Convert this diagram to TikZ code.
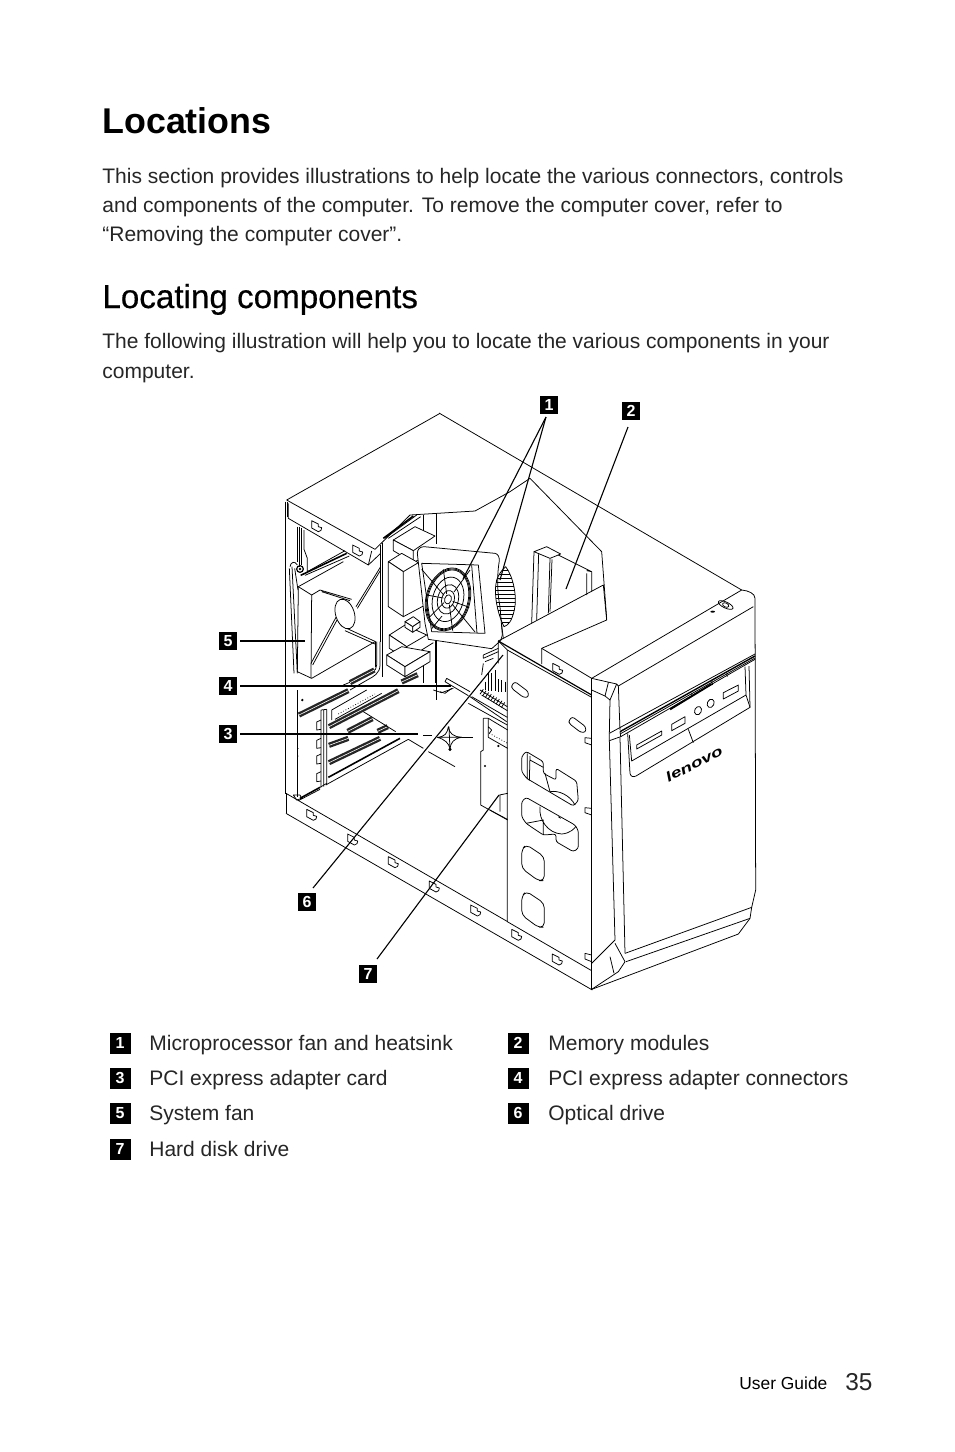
\documentclass[tikz,border=0pt]{standalone}
\usepackage{fontspec}
\setmainfont{Liberation Sans}
\newfontfamily\medfont[FakeBold=.5]{Liberation Sans}
\usetikzlibrary{calc}
\newcommand\tabmark[2]{\draw[art] (#1,#2) -- ++(0,22) -- ++(20,11) -- ++(8,-4) -- ++(2,-8) -- ++(-10,-3) -- ++(0,-8) -- cycle;}
\newcommand\slotband[4]{\draw[line width=2.6pt,black!85] (#1,#2)--(#3,#4); \draw[line width=.3pt,white] (#1,#2)--(#3,#4);}
\tikzset{
 art/.style={line width=.38pt,black,line join=round},
 heavy/.style={line width=.8pt,black},
 leader/.style={line width=.55pt,black},
 za/.style={shift={(105pt,-195pt)},x=.16667pt,y=-.16667pt},
 zb/.style={shift={(105pt,-340pt)},x=.16667pt,y=-.16667pt},
 zc/.style={shift={(245pt,-280pt)},x=.16667pt,y=-.16667pt},
 zd/.style={shift={(190pt,-260pt)},x=.16667pt,y=-.16667pt},
 ze/.style={shift={(142.5pt,-335pt)},x=.16667pt,y=-.16667pt},
 zg/.style={shift={(220pt,-320pt)},x=.16667pt,y=-.16667pt},
 body/.style={anchor=base west,inner sep=0pt,font=\fontsize{10.5pt}{12pt}\selectfont,text=black!85},
 num/.style={fill=black,text=white,inner sep=0pt,minimum size=9pt,font=\fontsize{8pt}{8pt}\selectfont\bfseries},
 lnum/.style={fill=black,text=white,inner sep=0pt,minimum size=10.5pt,font=\fontsize{8pt}{8pt}\selectfont\bfseries},
}
\begin{document}
\begin{tikzpicture}[x=.5pt,y=-.5pt]
\useasboundingbox (0,0) rectangle (954,1452);
\fill[white] (0,0) rectangle (954,1452);
% ---- text
\node[anchor=base west,inner sep=0pt,font=\fontsize{17.9pt}{20pt}\selectfont\bfseries] (title) at (102,133) {Locations};
\node[body] (p1) at (102,183) {This section provides illustrations to help locate the various connectors, controls};
\node[body] (p2) at (102,212) {and components of the computer. To remove the computer cover, refer to};
\node[body] (p3) at (102,241) {“Removing the computer cover”.};
\node[anchor=base west,inner sep=0pt,font=\fontsize{16.6pt}{18pt}\medfont] (head) at (102,308) {Locating components};
\node[body] (p4) at (102,348) {The following illustration will help you to locate the various components in your};
\node[body] (p5) at (102,378) {computer.};
% ---- legend
\node[lnum] (k1) at (120,1043) {1}; \node[body] (t1) at (149,1050) {Microprocessor fan and heatsink};
\node[lnum] (k3) at (120,1078) {3}; \node[body] (t3) at (149,1085) {PCI express adapter card};
\node[lnum] (k5) at (120,1113) {5}; \node[body] (t5) at (149,1120) {System fan};
\node[lnum] (k7) at (120,1149) {7}; \node[body] (t7) at (149,1156) {Hard disk drive};
\node[lnum] (k2) at (518,1043) {2}; \node[body] (t2) at (548,1050) {Memory modules};
\node[lnum] (k4) at (518,1078) {4}; \node[body] (t4) at (548,1085) {PCI express adapter connectors};
\node[lnum] (k6) at (518,1113) {6}; \node[body] (t6) at (548,1120) {Optical drive};
\node[anchor=base west,inner sep=0pt,font=\fontsize{8.7pt}{10pt}\selectfont] (ug) at (739,1389) {User Guide};
\node[anchor=base west,inner sep=0pt,font=\fontsize{12.2pt}{14pt}\selectfont,text=black!85] (pg) at (845,1390) {35};
% ---- chassis, upper-left (zoom A coordinates)
\begin{scope}[za]
\draw[art] (690,70)--(230,330)--(495,478)--(600,375)--(795,363)--(900,305)--(960,265);
\draw[art] (225,335)--(225,930) (232,335)--(232,380);
\draw[art] (235,340)--(235,385)--(475,525)--(485,483);
\draw[art] (475,525)--(512,490);
\tabmark{305}{392}\tabmark{428}{465}
\draw[heavy] (268,410)--(268,530) (275,415)--(275,525);
\draw[art] (282,420)--(282,478)--(292,505)--(292,545)--(405,482);
\draw[heavy] (272,556)--(410,490);
\draw[art] (285,556)--(418,498);
\draw[art] (262,410)--(262,515);
\draw[art] (240,530) .. controls (242,515) and (255,512) .. (262,525);
\draw[art] (238,535)--(252,850) (246,530)--(262,850) (254,535)--(264,600);
\draw[line width=.6pt] (270,537) circle (10);
\fill (270,537) circle (4);
% system fan box
\draw[art] (265,590)--(262,845)--(305,865)--(495,755);
\draw[art] (265,590)--(305,615)--(303,865);
\draw[art] (265,590)--(400,515);
\draw[art] (303,820)--(378,682) (308,825)--(381,690);
\draw[art] (305,615)--(330,600)--(425,628) (335,605)--(420,632);
\draw[art] (410,715)--(497,755) (405,722)--(495,762);
\draw[art] (438,650)--(512,530) (442,655)--(512,540);
\draw[art,fill=white,rotate around={18:(405,672)}] (405,672) ellipse (28 and 46);
\draw[art] (495,755)--(495,830);
\draw[art] (500,755)--(500,825) .. controls (500,845) and (480,850) .. (465,858)--(400,885);
\draw[art] (510,755)--(510,825) .. controls (510,850) and (490,860) .. (475,868)--(420,900);
\draw[art] (510,465)--(510,755) (518,458)--(518,860);
\draw[art] (525,445)--(620,375) (535,445)--(632,380);
\draw[heavy] (520,445)--(610,378);
\draw[art] (640,375)--(640,425) (680,370)--(680,462) (680,752)--(680,930) (640,800)--(640,880);
% boxes on the board
\draw[art,fill=white] (550,450)--(615,410)--(675,438)--(610,482)--cycle;
\draw[art,fill=white] (550,450)--(550,482)--(610,518)--(610,482)--cycle;
\draw[art] (610,518)--(628,508);
\draw[art,fill=white] (535,515)--(575,490)--(625,518)--(580,545)--cycle;
\draw[art,fill=white] (535,515)--(535,650)--(580,680)--(580,545)--cycle;
\draw[art] (580,680)--(640,648);
\draw[art,fill=white] (538,735)--(585,705)--(650,735)--(590,770)--cycle;
\draw[art,fill=white] (538,735)--(538,775)--(590,808)--(590,770)--cycle;
\draw[art] (590,808)--(670,758) (650,735)--(670,725);
\draw[art,fill=white] (585,695)--(610,680)--(630,695)--(608,710)--cycle;
\draw[art,fill=white] (585,695)--(585,712)--(608,727)--(608,710)--cycle;
\draw[art,fill=white] (608,710)--(630,695)--(630,712)--(608,727)--cycle;
\draw[art,fill=white] (530,795)--(575,770)--(660,785)--(585,830)--cycle;
\draw[art,fill=white] (530,795)--(530,825)--(585,860)--(585,830)--cycle;
\draw[art,fill=white] (585,830)--(660,785)--(660,815)--(585,860)--cycle;
\end{scope}
% ---- motherboard, fan and memory (zoom D coordinates)
\begin{scope}[zd]
\draw[art,fill=white] (112,100) .. controls (112,88) and (120,80) .. (132,80)--(345,100) .. controls (355,102) and (358,112) .. (358,122)
  .. controls (350,170) and (352,220) .. (360,260)--(367,345)--(362,362)--(335,386)--(145,358)--(135,310)--cycle;
\draw[art] (125,130)--(295,135)--(315,340)--(155,335)--cycle;
\draw[art] (275,135)--(291,340);
\foreach \rx/\ry in {66/96,63/93,60/90,46/68,31/45,19/27}{\draw[art,rotate around={-15:(204,238)}] (204,238) ellipse [x radius=\rx, y radius=\ry];}
\draw[art,fill=white,rotate around={-15:(204,238)}] (204,238) ellipse (10 and 14);
\draw[art] (125,148)--(192,226) (285,336)--(216,252) (155,326)--(186,288) (270,150)--(222,216);
\draw[art] (190,148)--(200,222) (140,225)--(190,234) (268,262)--(218,244) (218,332)--(208,254) (150,290)--(192,248);
% heatsink lens
\begin{scope}
\clip (377,140) .. controls (400,170) and (412,230) .. (403,270) .. controls (395,305) and (385,315) .. (372,320) .. controls (352,280) and (340,220) .. (350,180) .. controls (355,165) and (365,150) .. (377,140)--cycle;
\foreach \yy in {150,162,...,320}{\draw[art] (340,\yy)--(415,\yy);}
\end{scope}
\draw[art] (377,140) .. controls (400,170) and (412,230) .. (403,270) .. controls (395,305) and (385,315) .. (372,320) .. controls (352,280) and (340,220) .. (350,180) .. controls (355,165) and (365,150) .. (377,140)--cycle;
\draw[art] (365,315)--(370,355);
\draw[art] (165,362)--(165,490);
% memory
\draw[art] (462,95)--(500,80)--(542,102)--(510,115)--cycle;
\draw[art] (462,95)--(455,310) (476,100)--(470,300) (510,115)--(505,280) (516,118)--(510,275);
\draw[art] (535,105)--(635,155)--(635,215) (620,160)--(620,225) (620,152)--(635,155);
% back line and chassis
\draw[art] (450,-125)--(665,95)--(680,295);
\draw[art] (270,530)--(380,605);
\end{scope}
% ---- sockets near the drive bay
\begin{scope}[zg]
\draw[art] (130,45)--(175,25) (130,55)--(175,35) (135,65)--(160,55) (130,45)--(130,55) (130,70)--(125,105);
\foreach \xx/\yy in {135/125,145/100,155/100,165/90,175/118,185/120,195/125}{\draw[art] (\xx,\yy)--(\xx,150+\xx*.1-13);}
\foreach \xx in {130,138,...,200}{\draw[art] (\xx,152+\xx*.62-85)--(\xx-10,160+\xx*.62-78);}
\draw[art] (120,150)--(202,200) (125,165)--(202,212) (95,170)--(202,232) (85,190)--(202,255);
\draw[art] (20,115)--(90,155) (15,125)--(85,167) (20,115)--(15,125);
\draw[art] (0,155)--(15,160)--(35,145);
\end{scope}
% ---- PCI area
\begin{scope}[ze]
\slotband{42}{135}{190}{62}
\slotband{132}{170}{340}{62}
\slotband{188}{184}{262}{146}
\slotband{278}{184}{308}{170}
\slotband{132}{226}{190}{205}
\slotband{132}{278}{285}{205}
\slotband{195}{38}{268}{0}
\slotband{350}{36}{398}{14}
\draw[art] (38,60)--(38,380) (0,0)--(0,372);
\draw[art] (108,120)--(108,352) (125,118)--(125,345) (116,120)--(116,350) (108,120)--(125,118);
\foreach \yy in {150,205,252,305}{\draw[art] (108,\yy)--(95,\yy+6)--(95,\yy+30)--(108,\yy+28);}
\draw[art] (140,120)--(140,150) (140,120)--(245,60);
\draw[art,densely dotted] (160,132)--(270,72);
\draw[art] (150,148)--(290,70);
\draw[art] (235,125)--(332,185);
\draw[line width=.8pt] (130,322)--(345,205);
\draw[line width=.8pt] (45,385)--(105,352);
\draw[art] (40,392)--(105,358) (122,345)--(370,208)--(415,235) (430,245)--(510,290);
\draw[art] (25,375)--(45,375)--(50,385)--(35,390)--cycle;
\draw[art] (105,352)--(125,340);
\fill (52,90) circle (4) (40,235) circle (1) (40,258) circle (1);
\draw[art] (445,60)--(470,68)--(505,55);
\end{scope}
% ---- lower-left (zoom B coordinates)
\begin{scope}[zb]
\draw[art] (228,340)--(893,725) (228,400)--(1147,930);
\draw[art] (228,340)--(228,400);
\foreach \xx/\yy in {290/388,413/462,535/530,658/603,782/675}{\tabmark{\xx}{\yy}}
% dashed continuation of leader 3 and the alignment star
\draw[heavy] (640,167)--(665,167) (755,172)--(790,172);
\draw[art] (682,172) .. controls (705,170) and (712,160) .. (715,140) .. controls (717,160) and (730,170) .. (755,172)
 .. controls (730,175) and (722,190) .. (720,205) .. controls (716,190) and (705,178) .. (682,172)--cycle;
\draw[art] (690,172)--(755,172) (717,140)--(720,212);
\fill (720,208) circle (5);
% hard disk bracket
\draw[art] (820,115)--(835,115)--(893,150) (812,215)--(812,375)--(893,420) (820,115)--(820,210)--(812,215);
\draw[art] (835,115)--(835,172)--(893,205) (835,140)--(845,150)--(838,160);
\draw[art,densely dotted] (838,160)--(893,190);
\fill (865,198) circle (3.5) (825,258) circle (3.5);
\draw[art] (868,345)--(893,340) (870,345)--(870,395);
\end{scope}
% ---- front and side (zoom C coordinates)
\begin{scope}[zc]
\draw[art] (25,243)--(340,75)--(350,180)--(155,265)--(155,312);
\draw[art] (155,265)--(305,355)--(755,90) .. controls (775,92) and (795,100) .. (795,115);
\draw[art] (-153,-441)--(755,90);
\draw[art] (795,115)--(797,990)--(785,1042)--(780,1075)--(745,1122)--(305,1288);
\draw[art] (25,243)--(52,270)--(52,1085) (25,243)--(25,310);
\draw[line width=.6pt] (25,243)--(305,405);
\draw[art] (52,270)--(305,412);
\draw[art] (305,355)--(305,1288);
\draw[art] (52,1085)--(305,1232);
% corner detail
\draw[art] (305,355)--(380,372)--(360,420)--(345,408)--(355,368);
\draw[art] (305,390)--(345,408);
\draw[art] (385,378)--(790,140);
\draw[art] (380,372)--(385,378)--(390,510);
\draw[art] (360,420)--(358,520);
\draw[art] (358,542)--(375,1140) (390,532)--(405,1180);
\draw[art] (375,1140)--(305,1210) (375,1150)--(405,1205)--(385,1235)--(305,1288);
\draw[art] (360,1190)--(372,1240);
\draw[art] (405,1180)--(785,1042) (408,1205)--(780,1075);
% power button
\draw[art,rotate around={-25:(707,135)}] (707,135) ellipse (24 and 9);
\draw[art,rotate around={-25:(707,135)}] (707,135) ellipse (10 and 6);
\fill (668,155) ellipse (7 and 3);
% band
\draw[art] (358,520)--(795,282);
\draw[line width=.7pt] (390,515)--(795,288);
\draw[art] (390,522)--(795,294);
\draw[art] (358,542)--(392,530)--(795,298);
\draw[art] (358,520)--(358,542) (390,515)--(392,530);
\draw[line width=1pt] (540,448)--(665,372);
% door
\draw[art] (413,520)--(420,640) .. controls (422,650) and (430,652) .. (438,648)--(780,442)--(768,405)--(765,320);
\draw[art] (418,525)--(425,603)--(768,405) (780,442)--(777,318);
\draw[art] (440,555)--(515,513)--(515,525)--(440,567)--cycle;
\draw[art] (545,493)--(585,470)--(585,490)--(545,512)--cycle;
\draw[art] (700,398)--(745,375)--(745,393)--(700,417)--cycle;
\draw[art,rotate around={-25:(624,452)}] (624,452) ellipse (10 and 13);
\draw[art,rotate around={-25:(662,430)}] (662,430) ellipse (10 and 13);
\draw[art] (595,508)--(610,548);
\draw[art] (605,400)--(605,410) (665,362)--(668,375) (710,340)--(712,350);
\node[rotate=27,inner sep=0pt,font=\fontsize{8pt}{9pt}\selectfont\bfseries\itshape] (logo) at (612,612) {\scalebox{1.2}[.85]{lenovo}};
% side panel holes
\draw[art,rounded corners=1.2pt] (65,375)--(75,365)--(115,395)--(115,412)--(100,412)--(65,385)--cycle;
\draw[art,rounded corners=1.2pt] (237,480)--(247,470)--(287,500)--(287,517)--(272,517)--(237,490)--cycle;
\draw[art,rounded corners=1.2pt,fill=white] (95,590)--(108,574)--(160,605)--(160,640)--(198,660)--(198,625)--(260,664)--(265,722)--(250,738)--(110,655)--(95,635)--cycle;
\draw[art] (112,580)--(112,658) (120,588)--(118,662) (120,600)--(160,622) (165,640)--(180,695);
\draw[art] (180,695) .. controls (205,690) and (240,705) .. (255,735);
\draw[art,rounded corners=1.2pt,fill=white] (95,725)--(108,712)--(255,795)--(265,812)--(265,865)--(250,875)--(198,845)--(198,822)--(160,825)--(108,790)--(95,770)--cycle;
\draw[art] (108,790)--(160,780)--(160,825) (150,740) .. controls (145,780) and (175,820) .. (215,822) .. controls (240,820) and (255,805) .. (258,798) (205,770)--(212,775);
\draw[art,rounded corners=2.4pt] (95,870)--(108,853)--(163,890)--(163,962)--(145,962)--(95,925)--cycle;
\draw[art,rounded corners=2.4pt] (95,1010)--(108,993)--(163,1030)--(163,1102)--(145,1102)--(95,1065)--cycle;
\tabmark{188}{310}\tabmark{65}{1108}\tabmark{187}{1182}
\draw[art] (305,535)--(285,533)--(285,548)--(305,555);
\draw[art] (305,745)--(285,743)--(285,758)--(305,765);
\draw[art] (305,1185)--(285,1180)--(285,1197)--(305,1205);
\draw[art] (0,750)--(52,778);
\end{scope}
% ---- callouts
\node[num] (n1) at (549,405) {1};
\node[num] (n2) at (631,411) {2};
\node[num] (n3) at (228,734) {3};
\node[num] (n4) at (228,686) {4};
\node[num] (n5) at (228,641) {5};
\node[num] (n6) at (307,902) {6};
\node[num] (n7) at (368,974) {7};
\coordinate (c1a) at (463,579);
\coordinate (c1b) at (500,580);
\coordinate (c2) at (566,589);
\coordinate (c3) at (418,734);
\coordinate (c4) at (451,686);
\coordinate (c5) at (305,641);
\coordinate (c6) at (503,655);
\coordinate (c7) at (499,795);
\coordinate (s1) at (546,417);
\draw[leader] (s1) -- (c1a);
\draw[leader] (s1) -- (c1b);
\draw[leader] (628,427) -- (c2);
\draw[leader] (n3.east) ++(3,0) -- (c3);
\draw[leader] (n4.east) ++(3,0) -- (c4);
\draw[leader] (n5.east) ++(3,0) -- (c5);
\draw[leader] (313,888) -- (c6);
\draw[leader] (377,959) -- (c7);
\end{tikzpicture}
\end{document}
